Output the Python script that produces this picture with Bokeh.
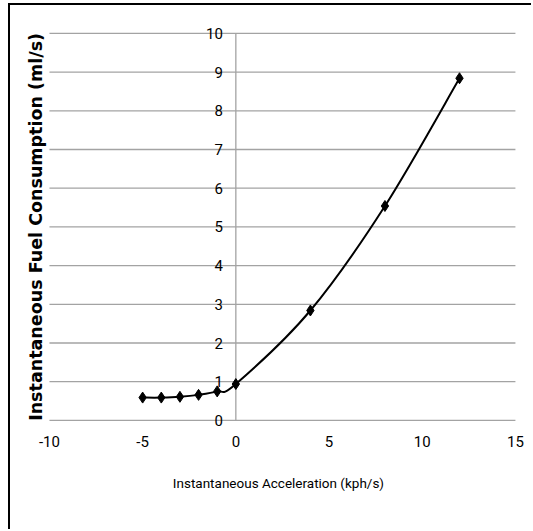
import numpy as np
from bokeh.plotting import figure
from bokeh.models import Range1d, ColumnDataSource
from bokeh.embed import file_html
from bokeh.resources import INLINE
from bokeh.core.properties import value

# ---- data ----
accel = [-5, -4, -3, -2, -1, 0, 4, 8, 12]
fuel = [0.59, 0.59, 0.61, 0.66, 0.75, 0.94, 2.84, 5.54, 8.84]
x_ticks = [-10, -5, 0, 5, 10, 15]
x_tick_labels = ["-10", "-5", "0", "5", "10", "15"]
y_ticks = [0, 1, 2, 3, 4, 5, 6, 7, 8, 9, 10]
y_tick_labels = ["0", "1", "2", "3", "4", "5", "6", "7", "8", "9", "10"]
x_title = "Instantaneous Acceleration (kph/s)"
y_title = "Instantaneous Fuel Consumption (ml/s)"

TICK_FONT = "Roboto"
GRID = "#a3a3a3"

# The plot frame fills the whole canvas (ranges padded beyond the -10..15 / 0..10
# axes) so that tick labels and titles, drawn as text next to the axes exactly
# like the original chart, are never clipped.
p = figure(width=523, height=526, output_backend="svg", toolbar_location=None,
           x_range=Range1d(-12.09, 15.97), y_range=Range1d(-2.87, 10.72),
           x_axis_location=None, y_axis_location=None, min_border=0)
p.margin = (3, 0, 0, 8)
p.styles = {"border-left": "2px solid black", "border-top": "2px solid black"}
p.outline_line_color = None
p.background_fill_color = "white"
p.border_fill_color = "white"
p.xgrid.visible = False
p.ygrid.visible = False

xmin, xmax = x_ticks[0], x_ticks[-1]
ymin, ymax = y_ticks[0], y_ticks[-1]

# horizontal grid lines
p.segment(x0=[xmin] * len(y_ticks), y0=y_ticks, x1=[xmax] * len(y_ticks), y1=y_ticks,
          line_color=GRID, line_width=1.3)
# vertical axis line at x = 0
p.segment(x0=[0], y0=[ymin], x1=[0], y1=[ymax], line_color=GRID, line_width=1.3)

# y tick labels left of the x = 0 line
ylab = ColumnDataSource(dict(x=[0] * len(y_ticks), y=y_ticks, t=y_tick_labels))
p.text(x="x", y="y", text="t", source=ylab, x_offset=-13,
       text_align="right", text_baseline="middle",
       text_font=value(TICK_FONT), text_font_size="15px", text_color="black")

# x tick labels under the y = 0 line
xlab = ColumnDataSource(dict(x=x_ticks, y=[ymin] * len(x_ticks), t=x_tick_labels))
p.text(x="x", y="y", text="t", source=xlab, y_offset=21,
       text_align="center", text_baseline="middle",
       text_font=value(TICK_FONT), text_font_size="15px", text_color="black")

# axis titles
p.text(x=[(xmin + xmax) / 2], y=[ymin], text=[x_title], x_offset=-4, y_offset=63,
       text_align="center", text_baseline="middle",
       text_font=value(TICK_FONT), text_font_size="13.5px", text_color="black")
p.text(x=[xmin], y=[(ymin + ymax) / 2], text=[y_title], x_offset=-13,
       angle=np.pi / 2, text_align="center", text_baseline="middle",
       text_font=value("DejaVu Sans"), text_font_style="bold",
       text_font_size="17.5px", text_color="black")

# smoothed line (Bezier segments computed from the data, Excel-style smoothing)
xs = np.array(accel, dtype=float)
ys = np.array(fuel, dtype=float)
n = len(xs)
px = np.concatenate([[xs[0]], xs, [xs[-1]]])
py = np.concatenate([[ys[0]], ys, [ys[-1]]])
t = 1.0 / 6.0
seg = dict(x0=[], y0=[], x1=[], y1=[], cx0=[], cy0=[], cx1=[], cy1=[])
for i in range(n - 1):
    p0x, p0y = px[i], py[i]
    p1x, p1y = px[i + 1], py[i + 1]
    p2x, p2y = px[i + 2], py[i + 2]
    p3x, p3y = px[i + 3], py[i + 3]
    seg["x0"].append(p1x); seg["y0"].append(p1y)
    seg["x1"].append(p2x); seg["y1"].append(p2y)
    seg["cx0"].append(p1x + (p2x - p0x) * t); seg["cy0"].append(p1y + (p2y - p0y) * t)
    seg["cx1"].append(p2x - (p3x - p1x) * t); seg["cy1"].append(p2y - (p3y - p1y) * t)
p.bezier(x0="x0", y0="y0", x1="x1", y1="y1", cx0="cx0", cy0="cy0",
         cx1="cx1", cy1="cy1", source=ColumnDataSource(seg),
         line_color="black", line_width=2)

p.scatter(accel, fuel, marker="diamond", size=11, fill_color="black",
          line_color="black")

open("out.html", "w").write(file_html(p, INLINE))
